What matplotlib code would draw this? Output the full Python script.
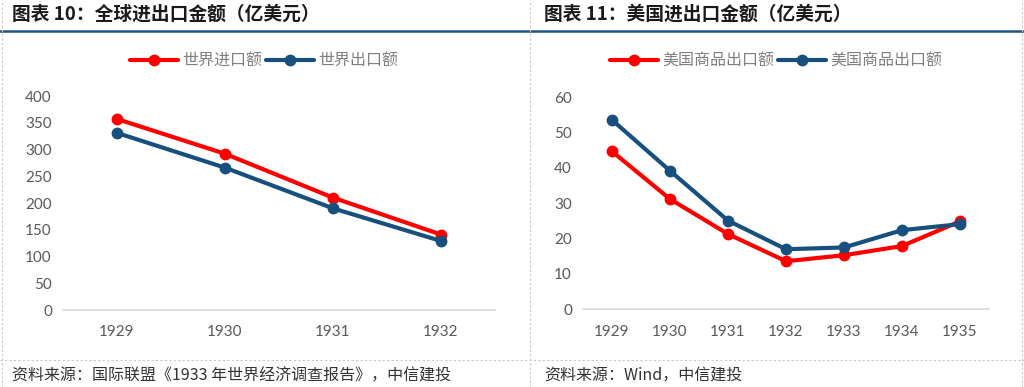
import matplotlib
matplotlib.use("Agg")
import matplotlib.pyplot as plt
from matplotlib.lines import Line2D

plt.rcParams["font.family"] = ["Noto Sans CJK SC", "DejaVu Sans"]

# ---- data ---------------------------------------------------------------
world_years = ["1929", "1930", "1931", "1932"]
world_import = [357, 292, 210, 141]
world_export = [331, 266, 190, 129]

us_years = ["1929", "1930", "1931", "1932", "1933", "1934", "1935"]
us_import = [44.7, 31.2, 21.3, 13.6, 15.3, 17.9, 24.9]
us_export = [53.6, 39.2, 25.1, 17.0, 17.5, 22.4, 24.1]

RED = "#FF0000"
BLUE = "#17507E"
TICK = "#595959"
W, H = 1024, 387


def fx(px):
    return px / W


def fy(py):
    return 1 - py / H


def draw_panel(ax, cats, s1, s2, lab1, lab2, ymax, ystep, legend_xy):
    x = range(len(cats))
    ax.plot(x, s1, color=RED, lw=3, marker="o", ms=7.5, label=lab1, solid_capstyle="round")
    ax.plot(x, s2, color=BLUE, lw=3, marker="o", ms=7.5, label=lab2, solid_capstyle="round")
    ax.set_xlim(-0.5, len(cats) - 0.5)
    ax.set_ylim(0, ymax)
    ax.set_xticks(list(x))
    ax.set_xticklabels(cats)
    ax.set_yticks(range(0, ymax + 1, ystep))
    for spine in ("top", "right", "left"):
        ax.spines[spine].set_visible(False)
    ax.spines["bottom"].set_color("#D9D9D9")
    ax.spines["bottom"].set_linewidth(1.2)
    ax.tick_params(length=0, colors=TICK, labelsize=11)
    ax.tick_params(axis="x", pad=11)
    ax.tick_params(axis="y", pad=8)
    for lbl in ax.get_xticklabels() + ax.get_yticklabels():
        lbl.set_fontfamily("Lato")
    ax.set_facecolor("none")
    leg = ax.legend(
        loc="center", bbox_to_anchor=legend_xy, bbox_transform=ax.figure.transFigure,
        ncol=2, frameon=False, handlelength=3.0, handletextpad=0.3,
        columnspacing=0.2, fontsize=11.5, labelcolor="#808080",
    )
    return leg


fig = plt.figure(figsize=(W / 100, H / 100), dpi=100)
fig.patch.set_facecolor("white")

ax1 = fig.add_axes([fx(63), fy(310), fx(495 - 63), (310 - 96) / H])
draw_panel(ax1, world_years, world_import, world_export, "世界进口额", "世界出口额",
           400, 50, (fx(264), fy(61)))

ax2 = fig.add_axes([fx(583), fy(309.3), fx(989 - 583), (309.3 - 97.3) / H])
draw_panel(ax2, us_years, us_import, us_export, "美国商品出口额", "美国商品出口额",
           60, 10, (fx(776), fy(61)))

# titles
fig.text(fx(12), fy(14), "图表 10：全球进出口金额（亿美元）", fontsize=13.5,
         fontweight="bold", color="#1A1A1A", va="center", ha="left")
fig.text(fx(544), fy(14), "图表 11：美国进出口金额（亿美元）", fontsize=13.5,
         fontweight="bold", color="#1A1A1A", va="center", ha="left")

# footers
fig.text(fx(12), fy(376), "资料来源：国际联盟《1933 年世界经济调查报告》，中信建投",
         fontsize=11.5, style="italic", color="#333333", va="center", ha="left")
fig.text(fx(544), fy(376), "资料来源：Wind，中信建投",
         fontsize=11.5, style="italic", color="#333333", va="center", ha="left")

# frame rules
fig.add_artist(Line2D([0, 1], [fy(31), fy(31)], transform=fig.transFigure,
                      color="#1F5583", lw=1.8))
fig.add_artist(Line2D([0, 1], [fy(360), fy(360)], transform=fig.transFigure,
                      color="#C8C8C8", lw=0.8, ls=(0, (2, 2))))
for xp in (2, 530, 1022):
    fig.add_artist(Line2D([fx(xp), fx(xp)], [0, 1], transform=fig.transFigure,
                          color="#C8C8C8", lw=0.8, ls=(0, (2, 2))))

fig.savefig("out.png", dpi=100, facecolor="white")
